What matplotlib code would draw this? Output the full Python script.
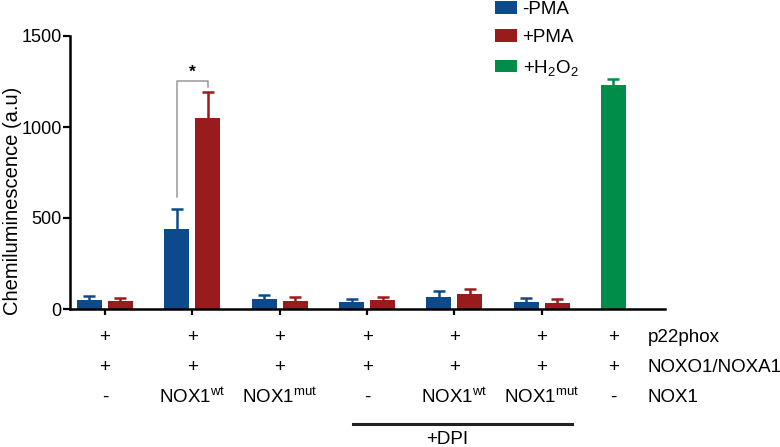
import matplotlib
matplotlib.use('Agg')
import matplotlib.pyplot as plt
import matplotlib.transforms as mtransforms
import numpy as np

plt.rcParams['font.family'] = ['Liberation Sans', 'DejaVu Sans']
plt.rcParams['mathtext.fontset'] = 'custom'
plt.rcParams['mathtext.rm'] = 'Liberation Sans'
plt.rcParams['mathtext.it'] = 'Liberation Sans:italic'
plt.rcParams['mathtext.bf'] = 'Liberation Sans:bold'

# data
minus_pma = [50, 441, 53, 37, 68, 37]
minus_pma_err = [22, 108, 26, 18, 29, 22]
plus_pma = [42, 1049, 42, 48, 82, 33]
plus_pma_err = [20, 141, 24, 18, 28, 24]
h2o2 = [1231]
h2o2_err = [34]

row_p22 = ['+', '+', '+', '+', '+', '+', '+']
row_noxo = ['+', '+', '+', '+', '+', '+', '+']
row_nox1 = ['-', r'NOX1$^{\mathrm{wt}}$', r'NOX1$^{\mathrm{mut}}$', '-',
            r'NOX1$^{\mathrm{wt}}$', r'NOX1$^{\mathrm{mut}}$', '-']
row_names = ['p22phox', 'NOXO1/NOXA1', 'NOX1']

blue = '#0d4a8c'
red = '#9a1b1b'
green = '#008d4a'

W, H = 780, 447
fig = plt.figure(figsize=(W / 100, H / 100), dpi=100)
ax = fig.add_axes([70 / W, 1 - 309 / H, 595 / W, 273 / H])

x = np.arange(len(minus_pma))
x_h2o2 = 5.82
width = 0.286
off = 0.177


def upper_err(xs, vals, errs, color):
    # one-sided (upper) error bars: stem plus cap
    xs = np.asarray(xs, dtype=float)
    tops = np.asarray(vals) + np.asarray(errs)
    ax.vlines(xs, vals, tops, color=color, lw=1.8, zorder=1)
    ax.plot(xs, tops, ls='none', marker='_', ms=8, mew=1.8, color=color, zorder=1)


ax.bar(x - off, minus_pma, width, color=blue, label='-PMA', zorder=2)
upper_err(x - off, minus_pma, minus_pma_err, blue)
ax.bar(x + off, plus_pma, width, color=red, label='+PMA', zorder=2)
upper_err(x + off, plus_pma, plus_pma_err, red)
ax.bar([x_h2o2], h2o2, width, color=green, label=r'+H$_2$O$_2$', zorder=2)
upper_err([x_h2o2], h2o2, h2o2_err, green)

# significance bracket between -PMA and +PMA for NOX1wt
b_left, b_right, b_top = 617, 1221, 1254
ax.plot([1 - off, 1 - off, 1 + off, 1 + off], [b_left, b_top, b_top, b_right],
        color='#999999', lw=1.1, clip_on=False)
ax.text(1, b_top + 5, '*', ha='center', va='bottom', fontsize=12.5, fontweight='bold')

ax.set_xlim(-0.40, 6.41)
ax.set_ylim(0, 1500)
ax.set_yticks([0, 500, 1000, 1500])
ax.set_xticks(x)
ax.set_xticklabels([])
for s in ['top', 'right']:
    ax.spines[s].set_visible(False)
for s in ['left', 'bottom']:
    ax.spines[s].set_linewidth(1.8)
ax.tick_params(axis='y', length=5, width=1.6, pad=1, labelsize=13)
ax.tick_params(axis='x', length=4, width=1.6)

fig.text(13 / W, 1 - 201 / H, 'Chemiluminescence (a.u)', rotation=90,
         ha='center', va='center', fontsize=14.5)

# condition table below the axis
fs = 13.5
cols = list(x) + [x_h2o2]
trans = mtransforms.blended_transform_factory(ax.transData, fig.transFigure)
for row, ypx in zip([row_p22, row_noxo, row_nox1], [338, 368, 397]):
    for xc, lab in zip(cols, row):
        ax.text(xc, 1 - ypx / H, lab, transform=trans, ha='center', va='center',
                fontsize=fs)
for name, ypx in zip(row_names, [338, 368, 397]):
    ax.text(6.21, 1 - ypx / H, name, transform=trans, ha='left', va='center',
            fontsize=fs)

ax.plot([2.84, 5.34], [1 - 424 / H] * 2, transform=trans, color='#222222',
        lw=2.2, clip_on=False)
ax.text(3.92, 1 - 439 / H, '+DPI', transform=trans, ha='center', va='center',
        fontsize=fs)

ax.legend(loc='upper left', bbox_to_anchor=(495 / W, 1 - 1 / H),
          bbox_transform=fig.transFigure, frameon=False, fontsize=fs,
          borderpad=0, borderaxespad=0, handlelength=1.17, handleheight=0.65,
          handletextpad=0.3, labelspacing=0.6)

fig.savefig('out.png', dpi=100)
